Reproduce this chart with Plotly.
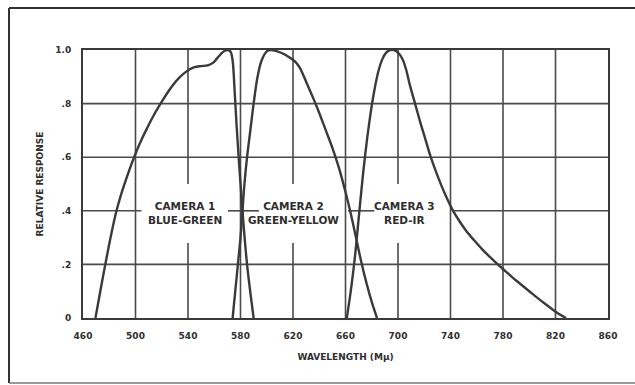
import plotly.graph_objects as go

# Spectral response curves of the three cameras
cam1_wl = [469.5, 473, 477, 481, 485, 489, 493, 497, 501, 505, 509, 513, 517, 521, 525, 529, 533, 537, 541, 545, 550, 555, 559, 562, 565, 568, 570.5, 572.5, 574, 575.5, 577, 579, 581.5, 585, 590]
cam1_resp = [0, 0.095, 0.2, 0.3, 0.39, 0.46, 0.52, 0.575, 0.625, 0.67, 0.71, 0.748, 0.783, 0.815, 0.845, 0.872, 0.895, 0.913, 0.927, 0.936, 0.94, 0.943, 0.952, 0.968, 0.985, 0.997, 1.0, 0.993, 0.96, 0.85, 0.72, 0.57, 0.4, 0.2, 0]

cam2_wl = [574, 576, 578, 580, 581.5, 583, 585, 587.5, 590, 593, 596, 600, 603, 608, 613, 618, 622, 625, 628, 631, 635, 640, 645, 650, 655, 660, 664, 668, 672, 676, 680, 684]
cam2_resp = [0, 0.1, 0.2, 0.3, 0.4, 0.5, 0.6, 0.7, 0.8, 0.9, 0.96, 0.995, 1.0, 0.995, 0.985, 0.97, 0.955, 0.935, 0.905, 0.87, 0.825, 0.765, 0.7, 0.635, 0.56, 0.47, 0.39, 0.3, 0.21, 0.13, 0.06, 0]

cam3_wl = [661, 664, 667, 670, 673, 676, 679, 682, 685, 688, 691, 694, 697, 700, 703, 706, 709, 713, 717, 721, 725, 729, 733, 737, 742, 747, 752, 758, 764, 770, 776, 782, 788, 794, 800, 806, 812, 818, 823, 828]
cam3_resp = [0, 0.1, 0.22, 0.37, 0.52, 0.65, 0.76, 0.85, 0.92, 0.965, 0.99, 1.0, 1.0, 0.99, 0.97, 0.93, 0.87, 0.8, 0.73, 0.665, 0.6, 0.545, 0.495, 0.45, 0.4, 0.36, 0.325, 0.29, 0.257, 0.228, 0.2, 0.174, 0.148, 0.124, 0.1, 0.076, 0.053, 0.031, 0.014, 0]

x_ticks = [460, 500, 540, 580, 620, 660, 700, 740, 780, 820, 860]
y_ticks = [0, 0.2, 0.4, 0.6, 0.8, 1.0]
y_tick_labels = ["0", ".2", ".4", ".6", ".8", "1.0"]

camera_names = ["CAMERA 1", "CAMERA 2", "CAMERA 3"]
camera_bands = ["BLUE-GREEN", "GREEN-YELLOW", "RED-IR"]
label_wl = [538, 620, 705]

INK = "#3a3a3a"
GRID = "#4a4a4a"
FONT = "DejaVu Sans"

W, H = 635, 385
ML, MR, MT, MB = 83, 27, 50, 67

fig = go.Figure()
for wl, resp in [(cam1_wl, cam1_resp), (cam2_wl, cam2_resp), (cam3_wl, cam3_resp)]:
    fig.add_trace(go.Scatter(
        x=wl, y=resp, mode="lines",
        line=dict(color=INK, width=2.4, shape="spline", smoothing=1.0),
        showlegend=False, hoverinfo="skip",
    ))

shapes = []


def grid_seg(x0, y0, x1, y1):
    shapes.append(dict(type="line", xref="x", yref="y", x0=x0, y0=y0, x1=x1, y1=y1,
                       line=dict(color=GRID, width=1.6), layer="below"))


# vertical grid lines; three of them break around the camera captions
for xv in [500, 580, 660, 740, 780, 820]:
    grid_seg(xv, 0, xv, 1)
for xv in [540, 620, 700]:
    grid_seg(xv, 0, xv, 0.28)
    grid_seg(xv, 0.5, xv, 1)

# horizontal grid lines; the .4 line is interrupted by the captions
for yv in [0.2, 0.6, 0.8]:
    grid_seg(460, yv, 860, yv)
for a, b in [(460, 504.5), (570.5, 594), (662, 682), (741, 860)]:
    grid_seg(a, 0.4, b, 0.4)

# outer frame of the figure (left, top, bottom edges)
pw, ph = W - ML - MR, H - MT - MB


def px(xp):
    return (xp - ML) / pw


def py(yp):
    return (H - MB - yp) / ph


frame = dict(color="#333333", width=2)
shapes.append(dict(type="line", xref="paper", yref="paper", x0=px(9), y0=py(8), x1=px(9), y1=py(383), line=frame))
shapes.append(dict(type="line", xref="paper", yref="paper", x0=px(9), y0=py(8), x1=px(635), y1=py(8), line=frame))
shapes.append(dict(type="line", xref="paper", yref="paper", x0=px(9), y0=py(383), x1=px(635), y1=py(383),
                   line=dict(color="#777777", width=1.5)))

annotations = []
for name, band, xv in zip(camera_names, camera_bands, label_wl):
    annotations.append(dict(
        x=xv, y=0.393, xref="x", yref="y", showarrow=False,
        text=name + "<br>" + band, align="center",
        font=dict(family=FONT, size=10.5, color="#2e2e2e", weight="bold"),
    ))

fig.update_layout(
    width=W, height=H,
    margin=dict(l=ML, r=MR, t=MT, b=MB),
    paper_bgcolor="white", plot_bgcolor="white",
    shapes=shapes, annotations=annotations,
    xaxis=dict(
        range=[460, 860], tickvals=x_ticks, ticktext=[str(v) for v in x_ticks],
        showgrid=False, zeroline=False, showline=True, mirror=True,
        linecolor=INK, linewidth=2, ticks="", ticklabelstandoff=8,
        tickfont=dict(family=FONT, size=9, color="#2e2e2e", weight="bold"),
        title=dict(text="WAVELENGTH (Mμ)", standoff=14,
                   font=dict(family=FONT, size=9, color="#2e2e2e", weight="bold")),
    ),
    yaxis=dict(
        range=[0, 1], tickvals=y_ticks, ticktext=y_tick_labels,
        showgrid=False, zeroline=False, showline=True, mirror=True,
        linecolor=INK, linewidth=2, ticks="", ticklabelstandoff=8,
        tickfont=dict(family=FONT, size=9, color="#2e2e2e", weight="bold"),
        title=dict(text="RELATIVE RESPONSE", standoff=10,
                   font=dict(family=FONT, size=9, color="#2e2e2e", weight="bold")),
    ),
)

fig.write_html("out.html")
